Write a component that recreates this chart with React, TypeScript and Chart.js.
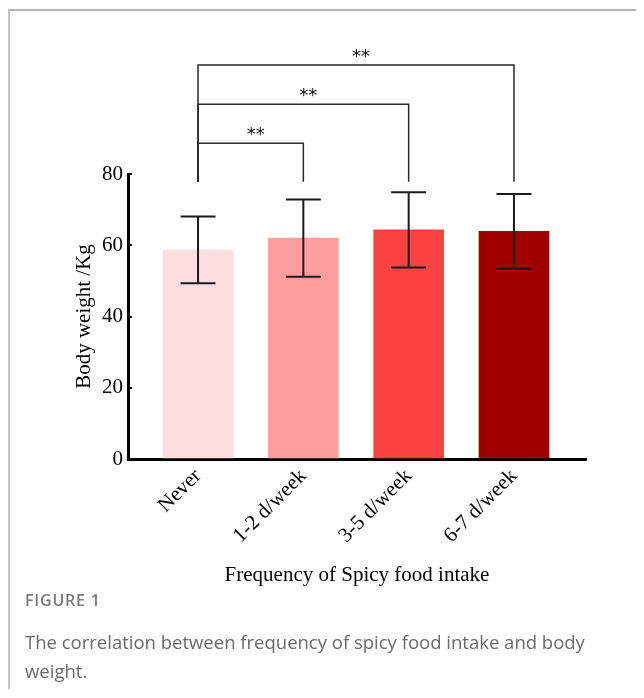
import { useEffect, useRef } from 'react';
import { Chart, registerables } from 'chart.js';

Chart.register(...registerables);

const categories = ['Never', '1-2 d/week', '3-5 d/week', '6-7 d/week'];
const means = [58.7, 62.0, 64.3, 63.9];
const sds = [9.4, 10.85, 10.55, 10.5];
const barColors = ['#fddde0', '#fc9e9e', '#f94343', '#a00000'];
const yMin = 0;
const yMax = 80;
const yStep = 20;
const brackets = [
  { from: 0, to: 1, level: 88.6, label: '**' },
  { from: 0, to: 2, level: 99.6, label: '**' },
  { from: 0, to: 3, level: 110.6, label: '**' },
];
const bracketBase = 77.8;
const xTitle = 'Frequency of Spicy food intake';
const yTitle = 'Body weight /Kg';

const serif = '"Liberation Serif", "Times New Roman", serif';

const overlayPlugin = {
  id: 'overlay',
  afterDatasetsDraw(chart: any) {
    const { ctx, scales } = chart;
    const x = scales.x;
    const y = scales.y;
    ctx.save();
    ctx.strokeStyle = '#1a1a1a';
    ctx.lineWidth = 2;
    means.forEach((m, i) => {
      const px = x.getPixelForValue(i);
      const top = y.getPixelForValue(m + sds[i]);
      const bot = y.getPixelForValue(m - sds[i]);
      ctx.beginPath();
      ctx.moveTo(px, top);
      ctx.lineTo(px, bot);
      ctx.moveTo(px - 17.5, top);
      ctx.lineTo(px + 17.5, top);
      ctx.moveTo(px - 17.5, bot);
      ctx.lineTo(px + 17.5, bot);
      ctx.stroke();
    });
    ctx.lineWidth = 1.5;
    ctx.strokeStyle = '#2a2a2a';
    ctx.fillStyle = '#111';
    ctx.font = '18px "DejaVu Sans", sans-serif';
    ctx.textAlign = 'center';
    ctx.textBaseline = 'alphabetic';
    brackets.forEach((b) => {
      const x1 = x.getPixelForValue(b.from);
      const x2 = x.getPixelForValue(b.to);
      const yl = y.getPixelForValue(b.level);
      const yb = y.getPixelForValue(bracketBase);
      ctx.beginPath();
      ctx.moveTo(x1, yb);
      ctx.lineTo(x1, yl);
      ctx.lineTo(x2, yl);
      ctx.lineTo(x2, yb);
      ctx.stroke();
      ctx.fillText(b.label, (x1 + x2) / 2 + 5, yl - 3);
    });
    ctx.restore();
  },
};

export default function App() {
  const ref = useRef<HTMLCanvasElement | null>(null);

  useEffect(() => {
    if (!ref.current) return;
    const chart = new Chart(ref.current, {
      type: 'bar',
      data: {
        datasets: [
          {
            data: means.map((m, i) => ({ x: i, y: m })),
            backgroundColor: barColors,
            borderWidth: 0,
            barThickness: 70,
          },
        ],
      },
      options: {
        responsive: false,
        animation: false,
        events: [],
        layout: { padding: { top: 163, right: 58, bottom: 23, left: 0 } },
        plugins: {
          legend: { display: false },
          tooltip: { enabled: false },
        },
        scales: {
          x: {
            type: 'linear',
            offset: false,
            min: -0.665,
            max: 3.684,
            afterBuildTicks: (s: any) => {
              s.ticks = categories.map((_, i) => ({ value: i }));
            },
            afterFit: (s: any) => {
              s.height = 129;
            },
            ticks: {
              callback: (v: any) => categories[v] ?? '',
              minRotation: 45,
              maxRotation: 45,
              autoSkip: false,
              color: '#000',
              font: { family: serif, size: 21 },
              padding: 9,
            },
            grid: {
              display: true,
              offset: false,
              drawOnChartArea: false,
              drawTicks: true,
              tickLength: -4,
              color: '#000',
              lineWidth: 2,
            },
            border: { display: true, color: '#000', width: 3 },
            title: {
              display: true,
              text: xTitle,
              color: '#000',
              font: { family: serif, size: 21 },
              padding: { top: 0, bottom: 0 },
            },
          },
          y: {
            min: yMin,
            max: yMax,
            afterFit: (s: any) => {
              s.width = 118;
            },
            ticks: {
              stepSize: yStep,
              color: '#000',
              font: { family: serif, size: 21 },
              padding: 9,
            },
            grid: {
              display: true,
              drawOnChartArea: false,
              drawTicks: true,
              tickLength: -4,
              color: '#000',
              lineWidth: 2,
            },
            border: { display: true, color: '#000', width: 3 },
            title: {
              display: true,
              text: yTitle,
              color: '#000',
              font: { family: serif, size: 21 },
              padding: { top: 62, bottom: 0 },
            },
          },
        },
      },
      plugins: [overlayPlugin],
    } as any);
    return () => chart.destroy();
  }, []);

  return (
    <div
      style={{
        position: 'relative',
        marginTop: 1,
        width: 634,
        height: 678,
        borderTop: '2px solid #b4b4b4',
        borderLeft: '2px solid #c4c4c4',
        background: '#fff',
      }}
    >
      <canvas
        ref={ref}
        width={634}
        height={600}
        style={{ position: 'absolute', left: 0, top: 0, width: 634, height: 600 }}
      />
      <div
        style={{
          position: 'absolute',
          left: 15,
          top: 580,
          width: 575,
          fontFamily: '"Open Sans", sans-serif',
          color: '#6a6a6a',
        }}
      >
        <div style={{ fontSize: 16, fontWeight: 600, letterSpacing: 0.8, lineHeight: '18px', color: '#7a7a7a' }}>
          FIGURE 1
        </div>
        <div style={{ fontSize: 18.5, lineHeight: '29px', marginTop: 18 }}>
          The correlation between frequency of spicy food intake and body weight.
        </div>
      </div>
    </div>
  );
}
